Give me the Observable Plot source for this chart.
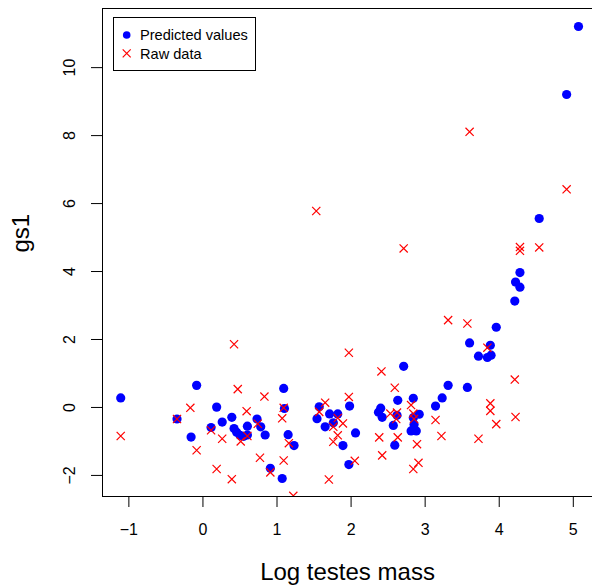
<!DOCTYPE html>
<html>
<head>
<meta charset="utf-8">
<script src="https://cdn.jsdelivr.net/npm/d3@7"></script>
<script src="https://cdn.jsdelivr.net/npm/@observablehq/plot@0.6"></script>
<style>
  html, body { margin: 0; padding: 0; background: #fff; }
  #wrap { position: relative; width: 592px; height: 587px; font-family: "Liberation Sans", Arial, Helvetica, sans-serif; }
  #legend { position: absolute; left: 113px; top: 17px; width: 141px; height: 52px; border: 1px solid #000; background: #fff; }
</style>
</head>
<body>
<div id="wrap"></div>
<script>
// Predicted values (blue dots)
const predX = [-1.11,-0.085,-0.35,0.185,-0.16,0.11,0.26,0.39,0.42,0.455,0.50,0.55,0.60,0.60,0.73,0.78,0.84,0.91,1.07,1.09,1.10,1.15,1.23,1.57,1.54,1.71,1.65,1.76,1.82,1.98,2.06,1.89,1.97,2.71,2.40,2.37,2.42,2.63,2.62,2.57,2.59,2.84,2.92,2.84,2.85,2.81,2.88,3.14,3.23,3.31,3.57,3.60,3.72,3.84,3.89,3.88,3.96,4.21,4.22,4.28,4.28,4.54,4.91,5.07];
const predY = [0.28,0.65,-0.34,0.01,-0.87,-0.59,-0.43,-0.29,-0.62,-0.73,-0.82,-0.85,-0.55,-0.81,-0.34,-0.57,-0.81,-1.79,-2.09,0.56,-0.03,-0.80,-1.12,0.02,-0.33,-0.19,-0.57,-0.45,-0.19,0.04,-0.75,-1.12,-1.68,1.21,-0.02,-0.14,-0.29,0.21,-0.23,-0.53,-1.11,0.27,-0.20,-0.30,-0.50,-0.69,-0.69,0.04,0.28,0.65,0.59,1.90,1.51,1.47,1.54,1.83,2.36,3.13,3.69,3.97,3.54,5.56,9.21,11.21];
// Raw data (red crosses)
const rawX = [-1.11,-0.35,-0.17,-0.085,0.42,0.47,0.83,0.59,0.11,0.26,0.51,0.60,0.74,0.77,0.185,0.39,0.91,1.09,1.07,1.09,1.16,1.22,1.53,1.65,1.57,1.97,1.97,1.82,1.89,1.76,1.82,1.76,2.05,1.70,2.41,2.59,2.53,2.62,2.61,2.38,2.63,2.42,2.71,2.81,2.84,2.85,2.89,2.91,2.84,3.14,3.22,3.31,3.57,3.60,3.72,3.84,3.88,3.88,3.96,4.21,4.22,4.28,4.28,4.54,4.91];
const rawY = [-0.84,-0.34,-0.01,-1.26,1.86,0.54,0.32,-0.11,-0.67,-0.92,-1.00,-0.84,-0.48,-1.48,-1.81,-2.11,-1.91,-0.01,-0.32,-1.56,-1.05,-2.60,5.78,0.14,-0.13,1.61,0.31,-0.31,-0.47,-0.57,-0.82,-1.01,-1.57,-2.12,1.06,0.58,-0.18,-0.15,-0.34,-0.88,-0.88,-1.41,4.68,0.07,-0.18,-0.34,-1.08,-1.63,-1.81,-0.37,-0.84,2.57,2.47,8.11,-0.92,1.76,0.12,-0.10,-0.49,0.82,-0.28,4.72,4.61,4.71,6.42];

const xTicks = [-1, 0, 1, 2, 3, 4, 5];
const yTicks = [-2, 0, 2, 4, 6, 8, 10];
const xTitle = "Log testes mass";
const yTitle = "gs1";
const legendLabels = ["Predicted values", "Raw data"];

const pred = predX.map((x, i) => ({x, y: predY[i]}));
const raw = rawX.map((x, i) => ({x, y: rawY[i]}));

const font = '"Liberation Sans", Arial, Helvetica, sans-serif';

const chart = Plot.plot({
  width: 592,
  height: 587,
  marginLeft: 102,
  marginRight: 0,
  marginTop: 8,
  marginBottom: 91,
  style: {fontFamily: font, background: "#fff", color: "#000"},
  x: {domain: [-1.36, 5.32], range: [101.7, 596.5]},
  y: {domain: [-2.62, 11.74], range: [496, 8]},
  marks: [
    Plot.frame({anchor: "left", stroke: "#000", strokeWidth: 1}),
    Plot.frame({anchor: "top", stroke: "#000", strokeWidth: 1}),
    Plot.frame({anchor: "bottom", stroke: "#000", strokeWidth: 1}),
    Plot.axisX(xTicks, {tickSize: 11, tickPadding: 16, fontSize: 16, label: null, stroke: "#000", color: "#000"}),
    Plot.axisY(yTicks, {tickSize: 11, tickPadding: 17, fontSize: 16, tickRotate: -90, label: null}),
    Plot.dot(pred, {x: "x", y: "y", r: 4.6, fill: "#0000ff", stroke: "none", clip: true}),
    Plot.dot(raw, {x: "x", y: "y", r: 3.8, symbol: "times", stroke: "#ff0000", strokeWidth: 1.2, clip: true}),
    Plot.text([xTitle], {frameAnchor: "bottom", dy: 83, fontSize: 24, text: d => d, fill: "#000"}),
    Plot.text([yTitle], {frameAnchor: "left", dx: -81, rotate: -90, fontSize: 24, text: d => d, fill: "#000"})
  ]
});

const wrap = document.getElementById("wrap");
wrap.appendChild(chart);

const legend = document.createElement("div");
legend.id = "legend";
legend.innerHTML = `
<svg width="141" height="52" style="display:block">
  <circle cx="12.7" cy="17" r="3.8" fill="#0000ff"></circle>
  <path d="M8.7,31.3L16.7,39.3M8.7,39.3L16.7,31.3" stroke="#ff0000" stroke-width="1.2"></path>
  <text x="26" y="17" dy="0.36em" font-size="14.6" font-family='${font}' fill="#000">${legendLabels[0]}</text>
  <text x="26" y="35.3" dy="0.36em" font-size="14.6" font-family='${font}' fill="#000">${legendLabels[1]}</text>
</svg>`;
wrap.appendChild(legend);
</script>
</body>
</html>
